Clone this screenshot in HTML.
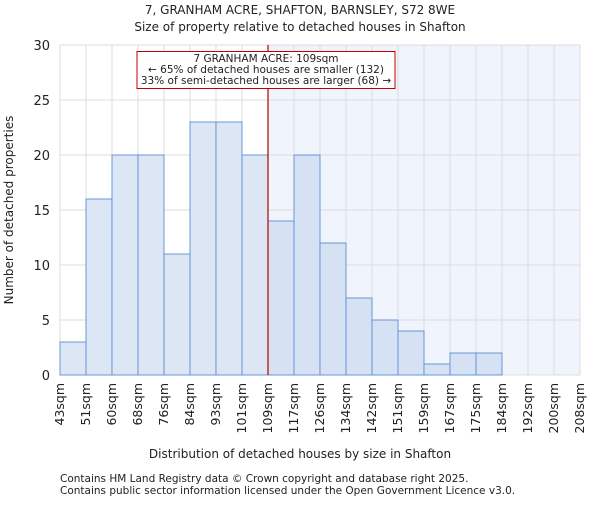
<!DOCTYPE html>
<html><head><meta charset="utf-8"><style>
body{margin:0;background:#fff}
svg text{font-family:"DejaVu Sans","Liberation Sans",sans-serif;fill:#222}
</style></head><body>
<svg id="c" width="600" height="500">
<text x="300" y="14" text-anchor="middle" font-size="12">7, GRANHAM ACRE, SHAFTON, BARNSLEY, S72 8WE</text>
<text x="300" y="31" text-anchor="middle" font-size="12">Size of property relative to detached houses in Shafton</text>
<g id="plot"></g>
<text x="300" y="458" text-anchor="middle" font-size="12">Distribution of detached houses by size in Shafton</text>
<text transform="translate(13,210) rotate(-90)" text-anchor="middle" font-size="12">Number of detached properties</text>
<text x="60" y="482" font-size="10.5">Contains HM Land Registry data © Crown copyright and database right 2025.</text>
<text x="60" y="494" font-size="10.5">Contains public sector information licensed under the Open Government Licence v3.0.</text>
</svg>
<script>
const categories=["43sqm","51sqm","60sqm","68sqm","76sqm","84sqm","93sqm","101sqm","109sqm","117sqm","126sqm","134sqm","142sqm","151sqm","159sqm","167sqm","175sqm","184sqm","192sqm","200sqm","208sqm"];
const counts=[3,16,20,20,11,23,23,20,14,20,12,7,5,4,1,2,2,0,0,0];
const yTicks=[0,5,10,15,20,25,30];
const markerIndex=8;
const NS="http://www.w3.org/2000/svg";
const g=document.getElementById("plot");
const X0=60,X1=580,Y0=375,Y1=45,YMAX=30;
const bw=(X1-X0)/counts.length;
const x=i=>X0+i*bw;
const y=v=>Y0-(v/YMAX)*(Y0-Y1);
function mk(t,a){const e=document.createElementNS(NS,t);for(const k in a)e.setAttribute(k,a[k]);g.appendChild(e);return e;}
let e;
e=mk("rect",{x:X0,y:Y1,width:X1-X0,height:Y0-Y1,fill:"#fff"});


e=mk("rect",{x:x(markerIndex),y:Y1,width:X1-x(markerIndex),height:Y0-Y1,fill:"#f0f4fc"});


for(let i=0;i<=counts.length;i++){
 e=mk("line",{x1:x(i),x2:x(i),y1:Y1,y2:Y0,stroke:"#dcdcdc","stroke-width":1});
 
 
}
yTicks.forEach(v=>{
 e=mk("line",{x1:X0,x2:X1,y1:y(v),y2:y(v),stroke:"#dcdcdc","stroke-width":1});
 
 
 e=mk("text",{x:X0-10,y:y(v)+5,"text-anchor":"end","font-size":"13"});e.textContent=v;
 
 
});
counts.forEach((v,i)=>{
 if(v<=0)return;
 e=mk("rect",{x:x(i),y:y(v),width:bw,height:Y0-y(v),fill:i>=markerIndex?"#d6e2f3":"#dde6f4",stroke:"#5b8fd6","stroke-width":0.9});
 
 
});
categories.forEach((c,i)=>{
 e=mk("text",{transform:`translate(${x(i)+4},${Y0+8}) rotate(-90)`,"text-anchor":"end","font-size":"12.5"});e.textContent=c;
 
 
});
e=mk("line",{x1:x(markerIndex),x2:x(markerIndex),y1:Y1,y2:Y0,stroke:"#b00000","stroke-width":1.2});


e=mk("rect",{x:137,y:51.5,width:258,height:37,fill:"#fff",stroke:"#c00000","stroke-width":1});


[["7 GRANHAM ACRE: 109sqm",62],["← 65% of detached houses are smaller (132)",73],["33% of semi-detached houses are larger (68) →",84]].forEach(([t,yy])=>{
 e=mk("text",{x:266,y:yy,"text-anchor":"middle","font-size":"10.5"});e.textContent=t;
 
 
});
</script>
</body></html>
